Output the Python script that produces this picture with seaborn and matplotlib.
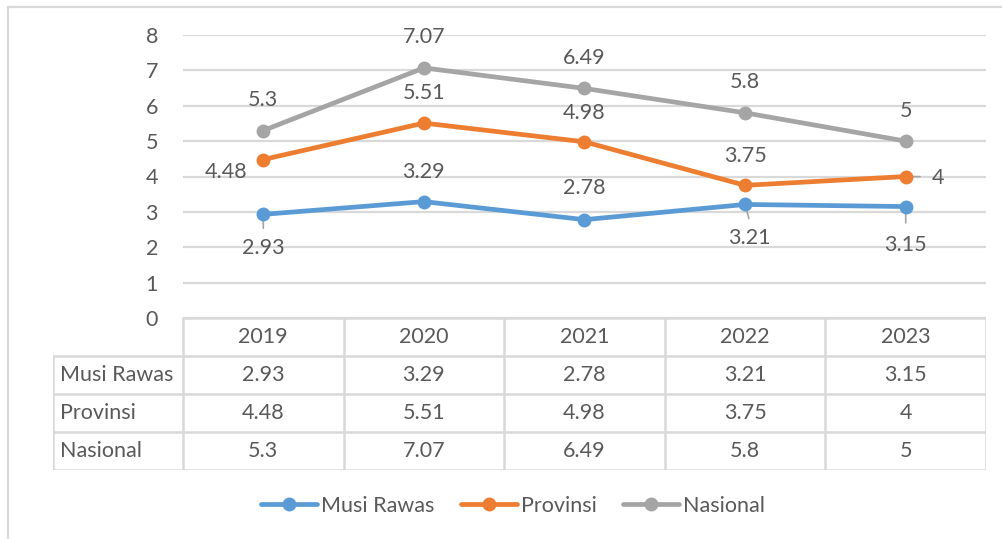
import matplotlib
matplotlib.use("Agg")
import matplotlib.pyplot as plt
from matplotlib.lines import Line2D
import pandas as pd
import seaborn as sns

# Data
years = ["2019", "2020", "2021", "2022", "2023"]
musi_rawas = [2.93, 3.29, 2.78, 3.21, 3.15]
provinsi = [4.48, 5.51, 4.98, 3.75, 4]
nasional = [5.3, 7.07, 6.49, 5.8, 5]
series_names = ["Musi Rawas", "Provinsi", "Nasional"]
series_values = [musi_rawas, provinsi, nasional]
colors = ["#5B9BD5", "#ED7D31", "#A5A5A5"]

TEXT = "#595959"
GRID = "#D9D9D9"
FS = 15.5
LW = 3.4
MS = 10

sns.set_theme(style="white")
plt.rcParams["font.family"] = ["Lato", "DejaVu Sans"]

W, H = 1003, 539
fig = plt.figure(figsize=(W / 100, H / 100), dpi=100)

def px_box(x0, y0, x1, y1):
    return [x0 / W, 1 - y1 / H, (x1 - x0) / W, (y1 - y0) / H]

# Chart outer border (top and left edges visible)
fig.add_artist(Line2D([8 / W, 1], [1 - 6.5 / H, 1 - 6.5 / H], color=GRID, lw=1.6))
fig.add_artist(Line2D([8 / W, 8 / W], [0, 1 - 6.5 / H], color=GRID, lw=1.6))

# Long-form data for seaborn
rows = []
for name, vals in zip(series_names, series_values):
    for i, v in enumerate(vals):
        rows.append({"pos": i, "year": years[i], "series": name, "value": v})
df = pd.DataFrame(rows)

ax = fig.add_axes(px_box(183, 35, 986, 318))
sns.lineplot(data=df, x="pos", y="value", hue="series", hue_order=series_names,
             palette=colors, marker="o", markersize=MS, markeredgewidth=0,
             linewidth=LW, legend=False, ax=ax, zorder=3)
ax.set_xlim(-0.5, len(years) - 0.5)
ax.set_ylim(0, 8)
ax.set_yticks(range(0, 9))
ax.set_xticks([])
ax.set_xlabel("")
ax.set_ylabel("")
ax.yaxis.grid(True, color=GRID, lw=1.6)
ax.set_axisbelow(True)
for s in ax.spines.values():
    s.set_visible(False)
ax.tick_params(axis="y", length=0, pad=18, labelsize=FS, labelcolor=TEXT)

# Data labels (offsets in points), with optional leader lines
label_offsets = {
    "Musi Rawas": [(0, -24, False), (0, 21, False), (0, 23, False), (3, -24, True), (0, -28, True)],
    "Provinsi": [(-27, -9, False), (0, 22, False), (0, 21, False), (0, 21, False), (23, -1, True)],
    "Nasional": [(0, 22, False), (0, 22, False), (0, 22, False), (0, 22, False), (0, 22, False)],
}
for name, vals in zip(series_names, series_values):
    for i, v in enumerate(vals):
        dx, dy, leader = label_offsets[name][i]
        ax.annotate(f"{v:g}", xy=(i, v), xytext=(dx, dy), textcoords="offset points",
                    ha="center", va="center", fontsize=FS, color=TEXT, zorder=5,
                    annotation_clip=False)
        if leader:
            # short grey connector from marker towards its label
            if abs(dx) > abs(dy):
                ax.annotate("", xy=(i, v), xytext=(dx * 0.45, dy * 0.1),
                            textcoords="offset points",
                            arrowprops=dict(arrowstyle="-", color="#A5A5A5", lw=1.2,
                                            shrinkA=0, shrinkB=5), zorder=2)
            else:
                ax.annotate("", xy=(i, v), xytext=(dx * 0.9, dy * 0.42),
                            textcoords="offset points",
                            arrowprops=dict(arrowstyle="-", color="#A5A5A5", lw=1.2,
                                            shrinkA=0, shrinkB=4), zorder=2)
# leader for the first Musi Rawas label
ax.annotate("", xy=(0, musi_rawas[0]), xytext=(0, -10), textcoords="offset points",
            arrowprops=dict(arrowstyle="-", color="#A5A5A5", lw=1.2, shrinkA=0, shrinkB=4),
            zorder=2)

# Data table below the plot
unit_px = (986 - 183) / len(years)
label_left = -0.5 - (183 - 53) / unit_px
tab = fig.add_axes(px_box(53, 318, 986, 470))
tab.set_xlim(label_left, len(years) - 0.5)
tab.set_ylim(4, 0)
tab.axis("off")
lk = dict(color=GRID, lw=1.8, solid_capstyle="projecting")
# horizontal lines
tab.plot([-0.5, len(years) - 0.5], [0, 0], **lk)
for r in range(1, 5):
    tab.plot([label_left, len(years) - 0.5], [r, r], **lk)
# vertical lines
tab.plot([label_left, label_left], [1, 4], **lk)
for c in range(len(years) + 1):
    tab.plot([c - 0.5, c - 0.5], [0, 4], **lk)
for i, y in enumerate(years):
    tab.text(i, 0.5, y, ha="center", va="center", fontsize=FS, color=TEXT)
for r, (name, vals) in enumerate(zip(series_names, series_values), start=1):
    tab.text(label_left + 0.045, r + 0.5, name, ha="left", va="center", fontsize=FS, color=TEXT)
    for i, v in enumerate(vals):
        tab.text(i, r + 0.5, f"{v:g}", ha="center", va="center", fontsize=FS, color=TEXT)

# Legend
handles = [Line2D([], [], color=c, lw=LW, marker="o", markersize=MS, markeredgewidth=0)
           for c in colors]
fig.legend(handles, series_names, loc="center", bbox_to_anchor=(513 / W, 1 - 506 / H),
           ncol=3, frameon=False, fontsize=FS, labelcolor=TEXT, handlelength=2.6,
           handletextpad=0.2, columnspacing=1.2)

fig.savefig("out.png", dpi=100)
